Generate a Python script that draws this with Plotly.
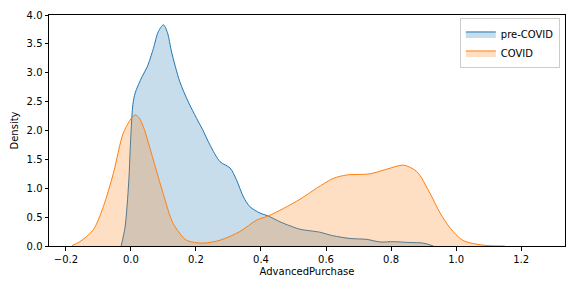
import plotly.graph_objects as go

# pre-COVID density curve
pre_x = [-0.03, -0.018, -0.007, 0.0, 0.006, 0.013, 0.034, 0.05, 0.069, 0.084, 0.10, 0.112,
         0.125, 0.15, 0.176, 0.202, 0.22, 0.243, 0.274, 0.305, 0.325, 0.346, 0.366, 0.397,
         0.422, 0.458, 0.489, 0.52, 0.58, 0.62, 0.674, 0.725, 0.766, 0.807, 0.858, 0.899, 0.93]
pre_y = [0.0, 0.33, 1.09, 1.95, 2.45, 2.65, 2.93, 3.10, 3.42, 3.71, 3.83, 3.70,
         3.36, 2.85, 2.50, 2.21, 2.02, 1.75, 1.46, 1.35, 1.14, 0.85, 0.68, 0.57,
         0.52, 0.42, 0.35, 0.29, 0.24, 0.18, 0.13, 0.115, 0.07, 0.075, 0.06, 0.05, 0.0]

# COVID density curve
cov_x = [-0.182, -0.157, -0.116, -0.085, -0.054, -0.024, 0.0, 0.013, 0.025, 0.038, 0.069,
         0.099, 0.130, 0.171, 0.222, 0.274, 0.335, 0.387, 0.422, 0.469, 0.52, 0.571, 0.622,
         0.664, 0.735, 0.787, 0.838, 0.879, 0.92, 0.951, 0.982, 1.02, 1.064, 1.105, 1.15]
cov_y = [0.005, 0.075, 0.28, 0.68, 1.26, 1.95, 2.20, 2.27, 2.22, 2.07, 1.49,
         0.91, 0.39, 0.10, 0.05, 0.10, 0.25, 0.45, 0.52, 0.65, 0.81, 1.00, 1.17,
         1.23, 1.25, 1.33, 1.40, 1.29, 0.91, 0.57, 0.31, 0.10, 0.03, 0.005, 0.0]

series_names = ["pre-COVID", "COVID"]
x_ticks = [-0.2, 0.0, 0.2, 0.4, 0.6, 0.8, 1.0, 1.2]
y_ticks = [0.0, 0.5, 1.0, 1.5, 2.0, 2.5, 3.0, 3.5, 4.0]

fig = go.Figure()
fig.add_trace(go.Scatter(x=pre_x, y=pre_y, name=series_names[0], mode="lines",
                         line=dict(color="#1f77b4", width=1, shape="spline", smoothing=0.8),
                         fill="tozeroy", fillcolor="rgba(31,119,180,0.25)"))
fig.add_trace(go.Scatter(x=cov_x, y=cov_y, name=series_names[1], mode="lines",
                         line=dict(color="#ff7f0e", width=1, shape="spline", smoothing=0.8),
                         fill="tozeroy", fillcolor="rgba(255,127,14,0.25)"))

axis_common = dict(showline=True, linecolor="black", linewidth=1, mirror=True,
                   ticks="outside", ticklen=3.5, tickcolor="black", showgrid=False,
                   zeroline=False, automargin=False, tickfont=dict(size=10, color="black"))
fig.update_xaxes(range=[-0.252, 1.335], tickvals=x_ticks, tickformat=".1f",
                 title=dict(text="AdvancedPurchase", font=dict(size=10, color="black"), standoff=4),
                 **axis_common)
fig.update_yaxes(range=[0, 4.0], tickvals=y_ticks, tickformat=".1f",
                 title=dict(text="Density", font=dict(size=10, color="black"), standoff=6),
                 **axis_common)

fig.update_layout(
    width=576, height=288,
    margin=dict(l=49, r=11, t=15, b=42),
    paper_bgcolor="white", plot_bgcolor="white",
    font=dict(family="DejaVu Sans", size=10, color="black"),
    showlegend=True,
    legend=dict(x=0.99, y=0.985, xanchor="right", yanchor="top",
                bgcolor="rgba(255,255,255,0.8)", bordercolor="#cccccc", borderwidth=1,
                font=dict(size=10), itemwidth=30, tracegroupgap=0),
)

fig.write_html("out.html", config={"displayModeBar": False},
               post_script="document.body.style.margin='0';")
